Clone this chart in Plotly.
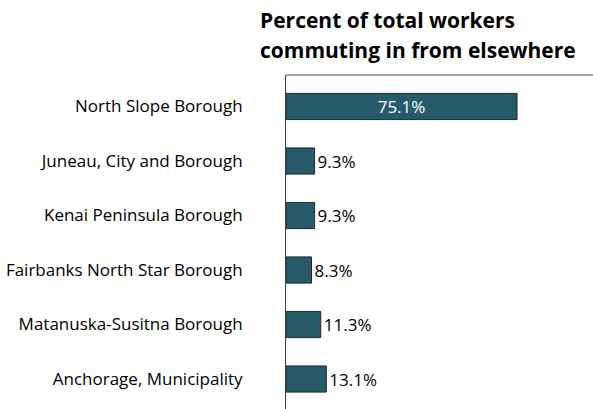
import plotly.graph_objects as go

categories = ["Anchorage, Municipality", "Matanuska-Susitna Borough", "Fairbanks North Star Borough",
              "Kenai Peninsula Borough", "Juneau, City and Borough", "North Slope Borough"]
values = [13.1, 11.3, 8.3, 9.3, 9.3, 75.1]
labels = [f"{v:.1f}%" for v in values]
title_lines = ["Percent of total workers", "commuting in from elsewhere"]

FONT = "Open Sans"
text_pos = ["inside" if v > 50 else "outside" for v in values]
text_col = ["white" if v > 50 else "black" for v in values]

fig = go.Figure(go.Bar(
    x=values, y=categories, orientation="h",
    marker=dict(color="#275a69", line=dict(color="#1c2a2f", width=1)),
    text=labels, textposition=text_pos, insidetextanchor="middle",
    textfont=dict(family=FONT, size=17, color=text_col),
    constraintext="none",
    cliponaxis=False, width=0.48,
))

fig.update_layout(
    width=593, height=409,
    margin=dict(l=286, r=0, t=75, b=0),
    paper_bgcolor="white", plot_bgcolor="white",
    showlegend=False,
    font=dict(family=FONT, size=17, color="black"),
    xaxis=dict(range=[0, 99.8], showgrid=False, zeroline=False, showticklabels=False,
               showline=False, fixedrange=True),
    yaxis=dict(range=[-0.55, 5.578], showgrid=False, zeroline=False, showline=True,
               linecolor="#404040", linewidth=1, ticks="", ticklabelstandoff=39,
               tickfont=dict(family=FONT, size=17, color="black")),
    uniformtext=dict(mode=False),
)
fig.add_shape(type="line", xref="paper", yref="paper", x0=0, x1=1, y0=1, y1=1,
              line=dict(color="#404040", width=1))
for i, t in enumerate(title_lines):
    fig.add_annotation(text=f"<b>{t}</b>", xref="paper", yref="paper",
                       x=-28 / 307, y=1 + (55 - 30 * i) / 334, xanchor="left", yanchor="middle",
                       showarrow=False, font=dict(family=FONT, size=21, color="black"))

fig.write_html("out.html")
